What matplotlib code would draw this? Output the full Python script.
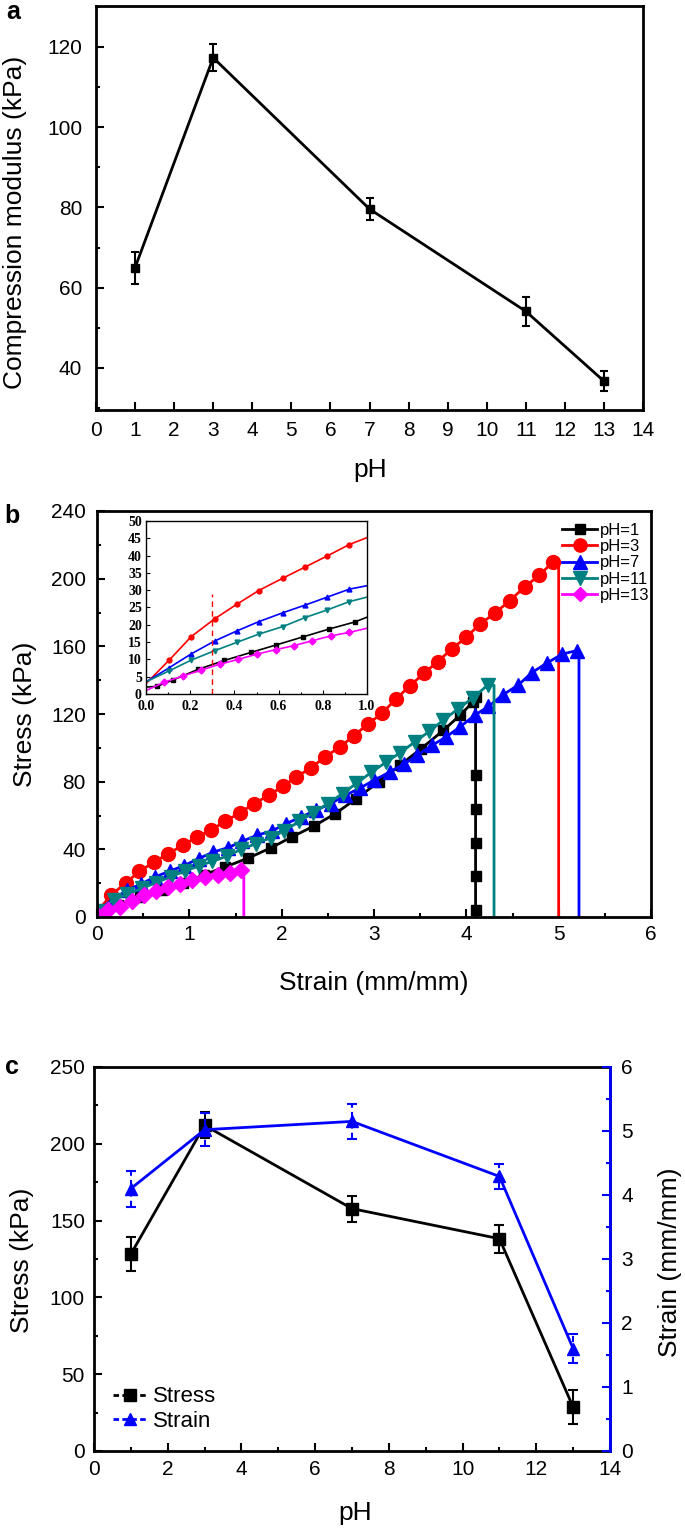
import matplotlib
matplotlib.use("Agg")
import matplotlib.pyplot as plt
from matplotlib.lines import Line2D
from matplotlib.ticker import MultipleLocator, FormatStrFormatter

plt.rcParams['font.family'] = ['Liberation Sans', 'DejaVu Sans']

# ---- panel a: compression modulus vs pH
ph = [1, 3, 7, 11, 13]
modulus = [65.0, 117.3, 79.6, 54.1, 36.7]
modulus_err = [4.0, 3.4, 2.7, 3.6, 2.4]

# ---- panel b: stress-strain curves (main plot)
strain_1 = [0.0, 0.23, 0.47, 0.70, 0.93, 1.16, 1.39, 1.64, 1.88, 2.11, 2.35, 2.58, 2.81,
            3.05, 3.28, 3.51, 3.75, 3.93, 4.07, 4.10, 4.10, 4.10, 4.10, 4.10, 4.10, 4.10]
stress_1 = [2.0, 7.0, 12.0, 16.0, 20.0, 25.0, 29.6, 34.9, 40.8, 47.3, 53.8, 61.1, 70.0,
            79.8, 89.7, 99.5, 110.3, 119.2, 127.0, 130.0, 84.0, 64.0, 44.0, 24.0, 4.0, 0.0]

strain_3 = [0.0, 0.15, 0.31, 0.46, 0.62, 0.77, 0.93, 1.08, 1.24, 1.39, 1.55, 1.70, 1.86,
            2.01, 2.16, 2.32, 2.47, 2.63, 2.78, 2.93, 3.09, 3.24, 3.39, 3.54, 3.69, 3.84,
            4.00, 4.15, 4.31, 4.47, 4.63, 4.79, 4.94, 5.00, 5.00]
stress_3 = [3.0, 12.8, 20.1, 27.0, 32.5, 37.4, 42.4, 47.3, 51.6, 56.6, 61.7, 67.0, 71.9,
            77.2, 82.8, 88.3, 94.6, 100.5, 107.0, 113.9, 120.6, 129.0, 136.7, 144.0, 151.0,
            158.3, 165.5, 173.2, 179.6, 187.0, 195.0, 202.0, 210.0, 210.0, 0.0]

strain_7 = [0.0, 0.17, 0.32, 0.48, 0.63, 0.79, 0.94, 1.10, 1.26, 1.42, 1.57, 1.73, 1.89,
            2.05, 2.21, 2.37, 2.53, 2.69, 2.85, 3.00, 3.17, 3.32, 3.47, 3.63, 3.78, 3.93,
            4.09, 4.24, 4.40, 4.56, 4.71, 4.87, 5.04, 5.20, 5.22, 5.22]
stress_7 = [3.5, 10.3, 15.7, 19.6, 23.7, 27.2, 30.3, 34.5, 38.4, 41.0, 44.7, 48.3, 50.8,
            55.2, 59.1, 63.1, 67.0, 71.9, 76.3, 80.8, 85.7, 90.2, 95.6, 101.5, 106.4, 112.3,
            119.2, 124.5, 131.5, 137.0, 144.5, 150.0, 155.5, 157.5, 157.5, 0.0]

strain_11 = [0.0, 0.18, 0.33, 0.49, 0.64, 0.80, 0.95, 1.10, 1.25, 1.41, 1.56, 1.72, 1.88,
             2.03, 2.19, 2.34, 2.50, 2.66, 2.81, 2.97, 3.13, 3.28, 3.44, 3.60, 3.75, 3.91,
             4.07, 4.23, 4.30, 4.30]
stress_11 = [3.5, 10.0, 13.5, 17.0, 20.3, 23.8, 27.2, 30.0, 33.0, 36.0, 40.0, 43.3, 46.8,
             51.0, 56.5, 61.5, 67.0, 73.0, 79.0, 85.5, 91.5, 97.0, 103.4, 109.8, 116.3, 123.0,
             129.5, 137.0, 137.0, 0.0]

strain_13 = [0.0, 0.12, 0.25, 0.38, 0.51, 0.64, 0.77, 0.90, 1.03, 1.17, 1.31, 1.44, 1.56,
             1.59, 1.59]
stress_13 = [1.0, 4.0, 6.0, 9.5, 12.8, 15.2, 17.7, 19.7, 22.1, 23.6, 25.0, 26.0, 27.5,
             27.5, 0.0]

# ---- panel b inset: first part of the curves
in_x_3 = [0.0, 0.105, 0.205, 0.31, 0.41, 0.51, 0.62, 0.72, 0.82, 0.92, 1.0]
in_y_3 = [3.0, 9.8, 16.6, 21.7, 25.9, 29.9, 33.5, 36.7, 39.9, 43.2, 45.2]
in_x_7 = [0.0, 0.105, 0.205, 0.31, 0.41, 0.51, 0.62, 0.72, 0.82, 0.92, 1.0]
in_y_7 = [3.5, 7.6, 11.6, 15.3, 18.2, 20.9, 23.5, 25.7, 28.0, 30.3, 31.3]
in_x_11 = [0.0, 0.105, 0.205, 0.31, 0.41, 0.51, 0.62, 0.72, 0.82, 0.92, 1.0]
in_y_11 = [3.5, 6.7, 9.8, 12.5, 14.9, 17.3, 19.5, 22.1, 24.3, 26.7, 28.0]
in_x_1 = [0.0, 0.05, 0.12, 0.235, 0.355, 0.474, 0.59, 0.71, 0.83, 0.944, 1.0]
in_y_1 = [2.0, 2.2, 4.0, 7.1, 9.7, 12.0, 14.2, 16.5, 18.8, 20.8, 22.2]
in_x_13 = [0.0, 0.082, 0.167, 0.25, 0.333, 0.417, 0.5, 0.586, 0.67, 0.753, 0.836, 0.92, 1.0]
in_y_13 = [1.0, 3.4, 5.2, 6.9, 8.6, 10.0, 11.5, 12.8, 14.0, 15.4, 16.8, 17.8, 19.0]
cut_strain = 0.3
cut_top = 29

# ---- panel c: failure stress and strain vs pH
stress_max = [128.2, 212.0, 157.8, 138.2, 28.6]
stress_max_err = [11.0, 8.5, 8.5, 9.0, 11.0]
strain_max = [4.10, 5.02, 5.15, 4.29, 1.60]
strain_max_err = [0.28, 0.26, 0.27, 0.20, 0.23]

W, H = 685, 1530
fig = plt.figure(figsize=(W / 100, H / 100), dpi=100)


def add_ax(l, t, r, b):
    return fig.add_axes([l / W, 1 - b / H, (r - l) / W, (b - t) / H])


def label(x, y, s, **kw):
    fig.text(x / W, 1 - y / H, s, ha='center', va='center', **kw)


# ================= a
ax = add_ax(96, 6, 643, 410)
ax.errorbar(ph, modulus, yerr=modulus_err, color='k', marker='s', ms=6, lw=2,
            capsize=3, elinewidth=1.5, capthick=1.5)
ax.set_xlim(0, 14)
ax.set_ylim(29.5, 130.2)
ax.xaxis.set_major_locator(MultipleLocator(1))
ax.yaxis.set_major_locator(MultipleLocator(20))
ax.yaxis.set_minor_locator(MultipleLocator(10))
ax.tick_params(which='both', direction='in', width=1.5, labelsize=15)
ax.tick_params(which='major', length=6)
ax.tick_params(which='minor', length=3)
ax.tick_params(axis='x', pad=8)
ax.tick_params(axis='y', pad=10)
for s in ax.spines.values():
    s.set_linewidth(2)
label(15, 222, 'Compression modulus (kPa)', rotation=90, fontsize=19)
label(370, 470, 'pH', fontsize=19)
label(13, 12, 'a', fontsize=18, fontweight='bold')

# ================= b
bx = add_ax(97, 511, 651, 917)
series = [
    (strain_1, stress_1, 'black', 's', 7.5, 'pH=1', slice(0, -1)),
    (strain_3, stress_3, 'red', 'o', 10, 'pH=3', slice(0, -2)),
    (strain_7, stress_7, 'blue', '^', 10, 'pH=7', slice(0, -2)),
    (strain_11, stress_11, '#008080', 'v', 10, 'pH=11', slice(0, -2)),
    (strain_13, stress_13, '#ff00ff', 'D', 8, 'pH=13', slice(0, -2)),
]
for x, y, c, m, ms, lab, mk in series:
    bx.plot(x, y, color=c, lw=2, marker=m, ms=ms, markevery=mk, label=lab)
bx.set_xlim(0, 6)
bx.set_ylim(0, 240)
bx.xaxis.set_major_locator(MultipleLocator(1))
bx.xaxis.set_minor_locator(MultipleLocator(0.5))
bx.yaxis.set_major_locator(MultipleLocator(40))
bx.yaxis.set_minor_locator(MultipleLocator(20))
bx.tick_params(which='both', direction='in', width=1.5, labelsize=15)
bx.tick_params(which='major', length=6)
bx.tick_params(which='minor', length=3)
bx.tick_params(axis='x', pad=6)
bx.tick_params(axis='y', pad=8)
for s in bx.spines.values():
    s.set_linewidth(2)
bx.legend(loc='center left', bbox_to_anchor=(0.84, 0.872), frameon=False,
          fontsize=12, handlelength=2.1, handletextpad=0.15, labelspacing=0.08,
          borderpad=0, borderaxespad=0, markerscale=0.95)
label(25, 714, 'Stress (kPa)', rotation=90, fontsize=19)
label(374, 983, 'Strain (mm/mm)', fontsize=19)
label(12, 516, 'b', fontsize=18, fontweight='bold')

# inset
ins = add_ax(146, 521, 367, 694)
inset_series = [
    (in_x_1, in_y_1, 'black', 's'),
    (in_x_3, in_y_3, 'red', 'o'),
    (in_x_7, in_y_7, 'blue', '^'),
    (in_x_11, in_y_11, '#008080', 'v'),
    (in_x_13, in_y_13, '#ff00ff', 'D'),
]
for x, y, c, m in inset_series:
    ins.plot(x, y, color=c, lw=1.2, marker=m, ms=3.5, markevery=slice(1, -1))
ins.plot([cut_strain, cut_strain], [0, cut_top], color='red', lw=1, ls=(0, (4, 3)))
ins.set_xlim(0, 1)
ins.set_ylim(0, 50)
ins.xaxis.set_major_locator(MultipleLocator(0.2))
ins.xaxis.set_minor_locator(MultipleLocator(0.1))
ins.yaxis.set_major_locator(MultipleLocator(5))
ins.tick_params(which='both', direction='in', width=0.8, labelsize=10)
ins.tick_params(axis='x', pad=4.5)
ins.tick_params(axis='y', pad=3)
ins.tick_params(which='major', length=3)
ins.tick_params(which='minor', length=1.5)
ins.xaxis.set_major_formatter(FormatStrFormatter('%.1f'))
for t in ins.get_xticklabels() + ins.get_yticklabels():
    t.set_fontfamily('Liberation Serif')
    t.set_fontweight('bold')
for s in ins.spines.values():
    s.set_linewidth(1)

# ================= c
cx = add_ax(94, 1067, 610, 1451)
cx.errorbar(ph, stress_max, yerr=stress_max_err, color='k', marker='s', ms=8, lw=2,
            capsize=3.5, elinewidth=1.5, capthick=1.5)
cx.set_xlim(0, 14)
cx.set_ylim(0, 250)
cx.xaxis.set_major_locator(MultipleLocator(2))
cx.xaxis.set_minor_locator(MultipleLocator(1))
cx.yaxis.set_major_locator(MultipleLocator(50))
cx.yaxis.set_minor_locator(MultipleLocator(25))
cx.tick_params(which='both', direction='in', width=1.5, labelsize=15)
cx.tick_params(which='major', length=6)
cx.tick_params(which='minor', length=3)
cx.tick_params(axis='both', pad=6.5)
for s in cx.spines.values():
    s.set_linewidth(2)

cx2 = cx.twinx()
eb = cx2.errorbar(ph, strain_max, yerr=strain_max_err, color='blue', marker='^', ms=9,
                  lw=2, capsize=3.5, elinewidth=1.5, capthick=1.5)
eb[2][0].set_linestyle((0, (3, 2)))
cx2.set_ylim(0, 6)
cx2.yaxis.set_major_locator(MultipleLocator(1))
cx2.yaxis.set_minor_locator(MultipleLocator(0.5))
cx2.tick_params(which='both', direction='in', width=1.5, labelsize=15, colors='blue',
                labelcolor='black', pad=8)
cx2.tick_params(which='major', length=6)
cx2.tick_params(which='minor', length=3)
for k, s in cx2.spines.items():
    s.set_linewidth(2)
    s.set_visible(k == 'right')
cx2.spines['right'].set_color('blue')

handles = [
    Line2D([], [], color='k', marker='s', ms=8, lw=2, ls=(0, (2, 1.2))),
    Line2D([], [], color='blue', marker='^', ms=9, lw=2, ls=(0, (2, 1.2))),
]
cx.legend(handles, ['Stress', 'Strain'], loc='center left', bbox_to_anchor=(0.037, 0.109),
          frameon=False, fontsize=16, handlelength=1.5, handletextpad=0.3,
          labelspacing=0.15, borderpad=0, borderaxespad=0)
label(22, 1260, 'Stress (kPa)', rotation=90, fontsize=19)
label(670, 1262, 'Strain (mm/mm)', rotation=90, fontsize=19)
label(355, 1513, 'pH', fontsize=19)
label(12, 1067, 'c', fontsize=18, fontweight='bold')

fig.savefig('out.png', dpi=100)
